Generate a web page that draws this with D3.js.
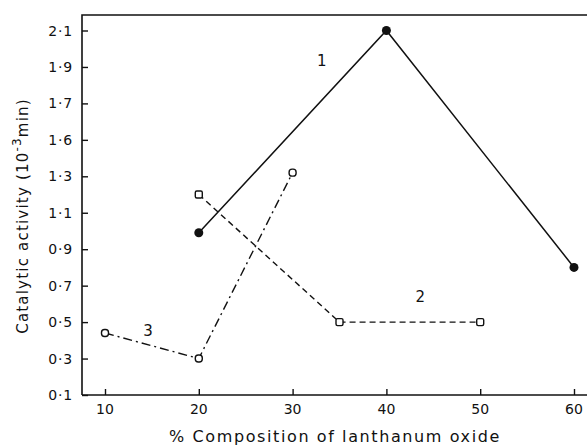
<!DOCTYPE html>
<html><head><meta charset="utf-8">
<script src="https://cdn.jsdelivr.net/npm/d3@7/dist/d3.min.js"></script>
<style>body{margin:0;background:#fff;}svg{display:block;}</style>
</head><body>
<script>
const yTickValues = [0.1,0.3,0.5,0.7,0.9,1.1,1.3,1.5,1.7,1.9,2.1];
const yTickLabels = ["0·1","0·3","0·5","0·7","0·9","1·1","1·3","1·6","1·7","1·9","2·1"];
const xTickValues = [10,20,30,40,50,60];
const series1X = [20,40,60];
const series1Y = [0.99,2.1,0.80];
const series2X = [20,35,50];
const series2Y = [1.20,0.50,0.50];
const series3X = [10,20,30];
const series3Y = [0.44,0.30,1.32];
const curveLabels = ["1","2","3"];
const curveLabelX = [33.1,43.6,14.6];
const curveLabelY = [1.93,0.64,0.45];

(function(){
const W=587,H=446;
const svg=d3.select("body").append("svg").attr("width",W).attr("height",H);
const font="'DejaVu Sans', sans-serif";
const x=d3.scaleLinear().domain([10,60]).range([105,574]);
const y=d3.scaleLinear().domain([0.1,2.1]).range([395,30.5]);
const pLeft=82, pTop=15, pBottom=395, pRight=600;

svg.append("path").attr("d",`M${pLeft},${pBottom}V${pTop}H${pRight}`).attr("fill","none").attr("stroke","#111").attr("stroke-width",1.6);
svg.append("line").attr("x1",pLeft).attr("x2",pRight).attr("y1",pBottom).attr("y2",pBottom).attr("stroke","#111").attr("stroke-width",1.6);

const yAxis=d3.axisRight(y).tickValues(yTickValues).tickSize(6).tickFormat(()=> "");
const gy=svg.append("g").attr("transform",`translate(${pLeft},0)`).call(yAxis);
gy.select(".domain").remove();
gy.selectAll("line").attr("stroke","#111").attr("stroke-width",1.4);
svg.selectAll(".ylab").data(yTickValues).enter().append("text")
  .attr("x",73).attr("y",d=>y(d)+5).attr("text-anchor","end")
  .attr("font-family",font).attr("font-size",14).attr("letter-spacing",0.8).attr("fill","#111")
  .text((d,i)=>yTickLabels[i]);

const xAxis=d3.axisTop(x).tickValues(xTickValues).tickSize(6).tickFormat(()=> "");
const gx=svg.append("g").attr("transform",`translate(0,${pBottom})`).call(xAxis);
gx.select(".domain").remove();
gx.selectAll("line").attr("stroke","#111").attr("stroke-width",1.4);
svg.selectAll(".xlab").data(xTickValues).enter().append("text")
  .attr("x",d=>x(d)).attr("y",414).attr("text-anchor","middle")
  .attr("font-family",font).attr("font-size",14).attr("fill","#111").text(d=>d);

svg.append("text").attr("x",335).attr("y",442).attr("text-anchor","middle")
  .attr("font-family",font).attr("font-size",16).attr("letter-spacing",1.6).attr("fill","#111")
  .text("% Composition of lanthanum oxide");
const yt=svg.append("text").attr("transform","translate(28,216) rotate(-90)").attr("text-anchor","middle")
  .attr("font-family",font).attr("font-size",15).attr("letter-spacing",1.2).attr("fill","#111");
yt.append("tspan").text("Catalytic activity (10");
yt.append("tspan").attr("dy",-7).attr("font-size",12).text("-3");
yt.append("tspan").attr("dy",7).text("min)");

const line=d3.line().x(d=>x(d[0])).y(d=>y(d[1]));
const d1=series1X.map((v,i)=>[v,series1Y[i]]);
const d2=series2X.map((v,i)=>[v,series2Y[i]]);
const d3d=series3X.map((v,i)=>[v,series3Y[i]]);

svg.append("path").datum(d1).attr("d",line).attr("fill","none").attr("stroke","#111").attr("stroke-width",1.5);
svg.append("path").datum(d2).attr("d",line).attr("fill","none").attr("stroke","#111").attr("stroke-width",1.4).attr("stroke-dasharray","6,4");
svg.append("path").datum(d3d).attr("d",line).attr("fill","none").attr("stroke","#111").attr("stroke-width",1.4).attr("stroke-dasharray","9,4,2,4");

svg.selectAll(".m1").data(d1).enter().append("circle").attr("cx",d=>x(d[0])).attr("cy",d=>y(d[1])).attr("r",4.5).attr("fill","#111");
svg.selectAll(".m2").data(d2).enter().append("rect").attr("x",d=>x(d[0])-3.5).attr("y",d=>y(d[1])-3.5).attr("width",7).attr("height",7).attr("rx",1.5)
  .attr("fill","#fff").attr("stroke","#111").attr("stroke-width",1.4);
svg.selectAll(".m3").data(d3d).enter().append("rect").attr("x",d=>x(d[0])-3.5).attr("y",d=>y(d[1])-3.5).attr("width",7).attr("height",7).attr("rx",3)
  .attr("fill","#fff").attr("stroke","#111").attr("stroke-width",1.4);

svg.selectAll(".cl").data(curveLabels).enter().append("text")
  .attr("x",(d,i)=>x(curveLabelX[i])).attr("y",(d,i)=>y(curveLabelY[i])+5).attr("text-anchor","middle")
  .attr("font-family",font).attr("font-size",15).attr("fill","#111").text(d=>d);
})();
</script>
</body></html>
